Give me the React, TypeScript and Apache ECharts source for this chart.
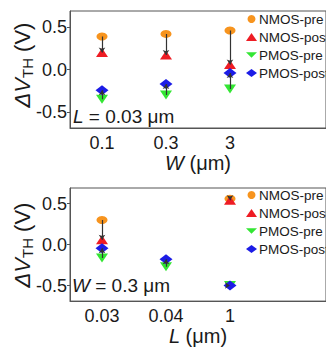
import React, { useEffect, useRef } from "react";
import * as echarts from "echarts";

// Threshold-voltage shift before/after stress for NMOS and PMOS devices
const wCategories = ["0.1", "0.3", "3", ""];
const wNmosPre = [0.39, 0.42, 0.46, null];
const wNmosPost = [0.2, 0.17, 0.06, null];
const wPmosPre = [-0.35, -0.3, -0.23, null];
const wPmosPost = [-0.245, -0.17, -0.04, null];

const lCategories = ["0.03", "0.04", "1", ""];
const lNmosPre = [0.3, null, 0.56, null];
const lNmosPost = [0.06, null, 0.54, null];
const lPmosPre = [-0.165, -0.27, -0.5, null];
const lPmosPost = [-0.045, -0.18, -0.5, null];

const seriesNames = ["NMOS-pre", "NMOS-post", "PMOS-pre", "PMOS-post"];
const FONT = "Liberation Sans, Arial, sans-serif";

const COLORS = ["#F7941E", "#EE1C24", "#33E633", "#1C1CE6"];
const SYMBOLS = ["circle", "triangle", "path://M0,0L2,0L1,1Z", "diamond"];
const SIZES: number[][] = [[11, 8], [12, 9], [12, 9], [13, 10]];

type Grp = {
  cats: string[];
  nPre: (number | null)[];
  nPost: (number | null)[];
  pPre: (number | null)[];
  pPost: (number | null)[];
};

function arrows(pre: (number | null)[], post: (number | null)[]) {
  const out: any[] = [];
  pre.forEach((p, i) => {
    const q = post[i];
    if (p == null || q == null) return;
    out.push({ coords: [[i, p], [i, q]] });
  });
  return out;
}

function seriesFor(g: Grp, idx: number) {
  const lists = [g.nPre, g.nPost, g.pPre, g.pPost];
  const s: any[] = lists.map((vals, k) => ({
    name: seriesNames[k],
    type: "scatter",
    xAxisIndex: idx,
    yAxisIndex: idx,
    symbol: SYMBOLS[k],
    symbolSize: SIZES[k],
    itemStyle: { color: COLORS[k], opacity: 1 },
    z: 2 + k,
    data: vals.map((v, i) => (v == null ? null : [i, v])),
  }));
  s.push({
    type: "lines",
    coordinateSystem: "cartesian2d",
    xAxisIndex: idx,
    yAxisIndex: idx,
    symbol: ["none", "arrow"],
    symbolSize: 5,
    lineStyle: { color: "#333", width: 1.2, opacity: 1 },
    z: 10,
    data: [...arrows(g.nPre, g.nPost), ...arrows(g.pPre, g.pPost)],
  });
  return s;
}

function xAxisFor(cats: string[], idx: number, title: string) {
  return {
    type: "category",
    gridIndex: idx,
    data: cats,
    boundaryGap: true,
    axisLine: { onZero: false, lineStyle: { color: "#555", width: 1 } },
    axisTick: { alignWithLabel: true, inside: true, length: 3, lineStyle: { color: "#555" } },
    axisLabel: { fontSize: 18, fontFamily: FONT, color: "#1a1a1a", margin: 6 },
    splitLine: { show: false },
    name: title,
    nameLocation: "middle",
    nameGap: 20,
    nameTextStyle: {
      fontSize: 20,
      fontFamily: FONT,
      color: "#1a1a1a",
      verticalAlign: "top",
      rich: { i: { fontSize: 20, fontFamily: FONT, fontStyle: "italic", color: "#1a1a1a" } },
    },
  };
}

function yAxisFor(idx: number) {
  return {
    type: "value",
    gridIndex: idx,
    min: -0.69,
    max: 0.69,
    splitNumber: 3,
    axisLine: { show: true, onZero: false, lineStyle: { color: "#555", width: 1 } },
    axisTick: { show: true, inside: false, length: 3, lineStyle: { color: "#555" } },
    axisLabel: {
      fontSize: 18,
      fontFamily: FONT,
      color: "#1a1a1a",
      margin: 3,
      showMinLabel: false,
      showMaxLabel: false,
      formatter: (v: number) => v.toFixed(1),
    },
    splitLine: { show: false },
  };
}

function legendFor(top: number) {
  return {
    orient: "vertical",
    left: 246,
    top,
    itemWidth: 11,
    itemHeight: 8,
    itemGap: 4,
    padding: 0,
    selectedMode: false,
    textStyle: { fontSize: 13.5, fontFamily: FONT, color: "#1a1a1a", padding: [0, 0, 0, -3] },
    data: seriesNames.map((n, k) => ({ name: n, icon: SYMBOLS[k], itemStyle: { color: COLORS[k] } })),
  };
}

function yTitle(cy: number) {
  return {
    type: "text",
    x: 22,
    y: cy,
    rotation: Math.PI / 2,
    style: {
      text: "{a|ΔV}{b|TH}{c| (V)}",
      align: "center",
      verticalAlign: "middle",
      fill: "#1a1a1a",
      rich: {
        a: { fontSize: 22, fontFamily: FONT, fontStyle: "italic", fill: "#1a1a1a", verticalAlign: "middle" },
        b: { fontSize: 15, fontFamily: FONT, fill: "#1a1a1a", verticalAlign: "bottom", padding: [10, 0, 0, 0] },
        c: { fontSize: 22, fontFamily: FONT, fill: "#1a1a1a", verticalAlign: "middle" },
      },
    },
  };
}

function note(x: number, y: number, sym: string, rest: string) {
  return {
    type: "text",
    x,
    y,
    style: {
      text: `{i|${sym}}{r|${rest}}`,
      verticalAlign: "middle",
      rich: {
        i: { fontSize: 19, fontFamily: FONT, fontStyle: "italic", fill: "#1a1a1a" },
        r: { fontSize: 19, fontFamily: FONT, fill: "#1a1a1a" },
      },
    },
    z: 20,
  };
}

export default function App() {
  const ref = useRef<HTMLDivElement>(null);
  useEffect(() => {
    if (!ref.current) return;
    const chart = echarts.init(ref.current, undefined, { renderer: "svg" });
    const top: Grp = { cats: wCategories, nPre: wNmosPre, nPost: wNmosPost, pPre: wPmosPre, pPost: wPmosPost };
    const bot: Grp = { cats: lCategories, nPre: lNmosPre, nPost: lNmosPost, pPre: lPmosPre, pPost: lPmosPost };
    chart.setOption({
      animation: false,
      backgroundColor: "#fff",
      grid: [
        { left: 70, top: 11, width: 262, height: 117, show: true, borderColor: "#555", borderWidth: 1 },
        { left: 70, top: 188, width: 262, height: 118, show: true, borderColor: "#555", borderWidth: 1 },
      ],
      xAxis: [xAxisFor(top.cats, 0, "{i|W} (μm)"), xAxisFor(bot.cats, 1, "{i|L} (μm)")],
      yAxis: [yAxisFor(0), yAxisFor(1)],
      legend: [legendFor(12), legendFor(188)],
      series: [...seriesFor(top, 0), ...seriesFor(bot, 1)],
      graphic: [
        yTitle(65),
        yTitle(245),
        note(73, 116, "L", " = 0.03 μm"),
        note(72, 285, "W", " = 0.3 μm"),
      ],
    });
    return () => chart.dispose();
  }, []);
  return (
    <div style={{ position: "absolute", left: 0, top: 0, width: 326, height: 347, overflow: "hidden", background: "#fff" }}>
      <div ref={ref} style={{ width: 326, height: 347 }} />
    </div>
  );
}
